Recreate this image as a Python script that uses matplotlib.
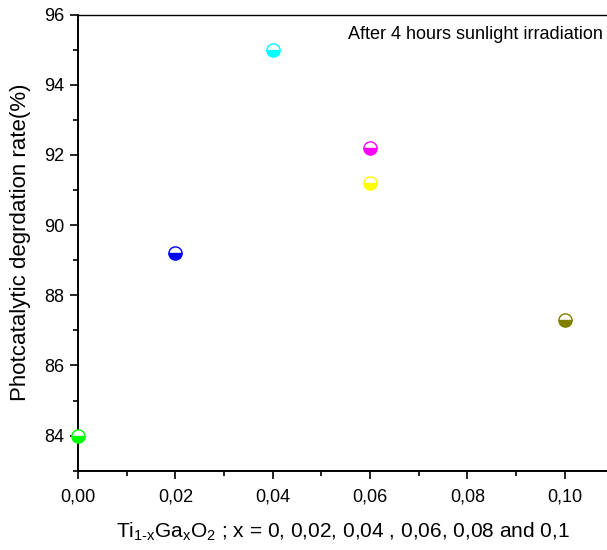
import matplotlib
matplotlib.use("Agg")
import matplotlib.pyplot as plt
from matplotlib.ticker import FuncFormatter, MultipleLocator

plt.rcParams["font.family"] = ["Liberation Sans", "DejaVu Sans"]
plt.rcParams["mathtext.fontset"] = "custom"
plt.rcParams["mathtext.rm"] = "Liberation Sans"
plt.rcParams["mathtext.default"] = "regular"

# data
x_ga = [0.00, 0.02, 0.04, 0.06, 0.06, 0.10]
rate = [84.0, 89.2, 95.0, 92.2, 91.2, 87.3]
colors = ["#00FF00", "#0000FF", "#00FFFF", "#FF00FF", "#FFFF00", "#808000"]

fig = plt.figure(figsize=(6.07, 5.5), dpi=100)
ax = fig.add_axes([0.1285, 0.1442, 0.8715, 0.8291])

for x, y, c in zip(x_ga, rate, colors):
    ax.plot(x, y, "o", ms=9.5, fillstyle="bottom", markerfacecolor=c,
            markerfacecoloralt="white", markeredgecolor=c, mew=1.0,
            clip_on=False, zorder=3)

ax.set_xlim(0, 0.1087)
ax.set_ylim(83, 96)
ax.xaxis.set_major_locator(MultipleLocator(0.02))
ax.xaxis.set_minor_locator(MultipleLocator(0.01))
ax.yaxis.set_major_locator(MultipleLocator(2))
ax.yaxis.set_minor_locator(MultipleLocator(1))
ax.xaxis.set_major_formatter(FuncFormatter(lambda v, p: f"{v:.2f}".replace(".", ",")))
ax.yaxis.set_major_formatter(FuncFormatter(lambda v, p: f"{v:.0f}"))

ax.tick_params(which="major", direction="out", length=6, width=1.2, labelsize=13)
ax.tick_params(axis="x", which="major", pad=7)
ax.tick_params(axis="y", which="major", pad=4)
ax.tick_params(which="minor", direction="out", length=3.5, width=1.2)
ax.tick_params(axis="x", which="both", top=False)
ax.tick_params(axis="y", which="both", right=False)
ax.spines["right"].set_visible(False)
ax.spines["left"].set_linewidth(1.4)
ax.spines["bottom"].set_linewidth(1.4)
ax.spines["top"].set_linewidth(1.0)

ax.set_xlabel(r"Ti$_{1\text{-}x}$Ga$_x$O$_2$ ; x = 0, 0,02, 0,04 , 0,06, 0,08 and 0,1",
              fontsize=15, labelpad=11)
ax.set_ylabel("Photcatalytic degrdation rate(%)", fontsize=16, labelpad=9)

ax.text(0.993, 0.975, "After 4 hours sunlight irradiation", transform=ax.transAxes,
        ha="right", va="top", fontsize=13)

fig.savefig("out.png", dpi=100)
